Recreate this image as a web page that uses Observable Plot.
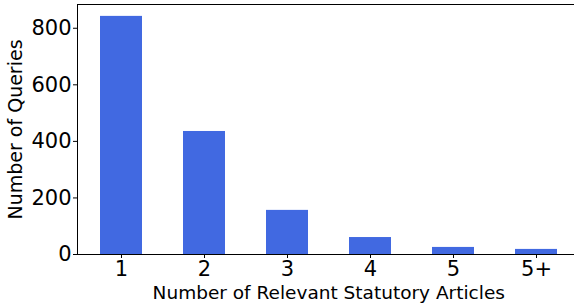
<!DOCTYPE html>
<html>
<head>
<meta charset="utf-8">
<script src="https://cdn.jsdelivr.net/npm/d3@7"></script>
<script src="https://cdn.jsdelivr.net/npm/@observablehq/plot@0.6"></script>
<style>
  html, body { margin: 0; padding: 0; background: #fff; overflow: hidden; }
  svg { display: block; }
</style>
</head>
<body>
<div id="chart"></div>
<script>
const categories = ["1", "2", "3", "4", "5", "5+"];
const counts = [842, 435, 156, 60, 25, 18];
const yTicks = [0, 200, 400, 600, 800];

const data = categories.map((c, i) => ({category: c, count: counts[i]}));

const chart = Plot.plot({
  width: 574,
  height: 307,
  marginLeft: 77,
  marginRight: -5.5,
  marginTop: 4,
  marginBottom: 53,
  style: {fontFamily: "DejaVu Sans", fontSize: "19px", color: "#000", background: "#fff", overflow: "hidden"},
  x: {domain: categories, paddingInner: 0.5, paddingOuter: 0.277},
  y: {domain: [0, 884]},
  marks: [
    Plot.barY(data, {x: "category", y: "count", fill: "#4169E1"}),
    Plot.frame({stroke: "#000", strokeWidth: 1}),
    Plot.axisX({tickSize: 4, tickPadding: 3, fontSize: 21, label: null}),
    Plot.axisX({tickSize: 0, ticks: [], fontSize: 18.5, label: "Number of Relevant Statutory Articles", labelAnchor: "center", labelOffset: 44.5, labelArrow: "none"}),
    Plot.axisY({ticks: yTicks, tickSize: 4, tickPadding: 2, fontSize: 21, tickFormat: d => String(d), label: null}),
    Plot.axisY({ticks: [], tickSize: 0, fontSize: 19, label: "Number of Queries", labelAnchor: "center", labelOffset: 69, labelArrow: "none"})
  ]
});
document.getElementById("chart").appendChild(chart);
</script>
</body>
</html>
